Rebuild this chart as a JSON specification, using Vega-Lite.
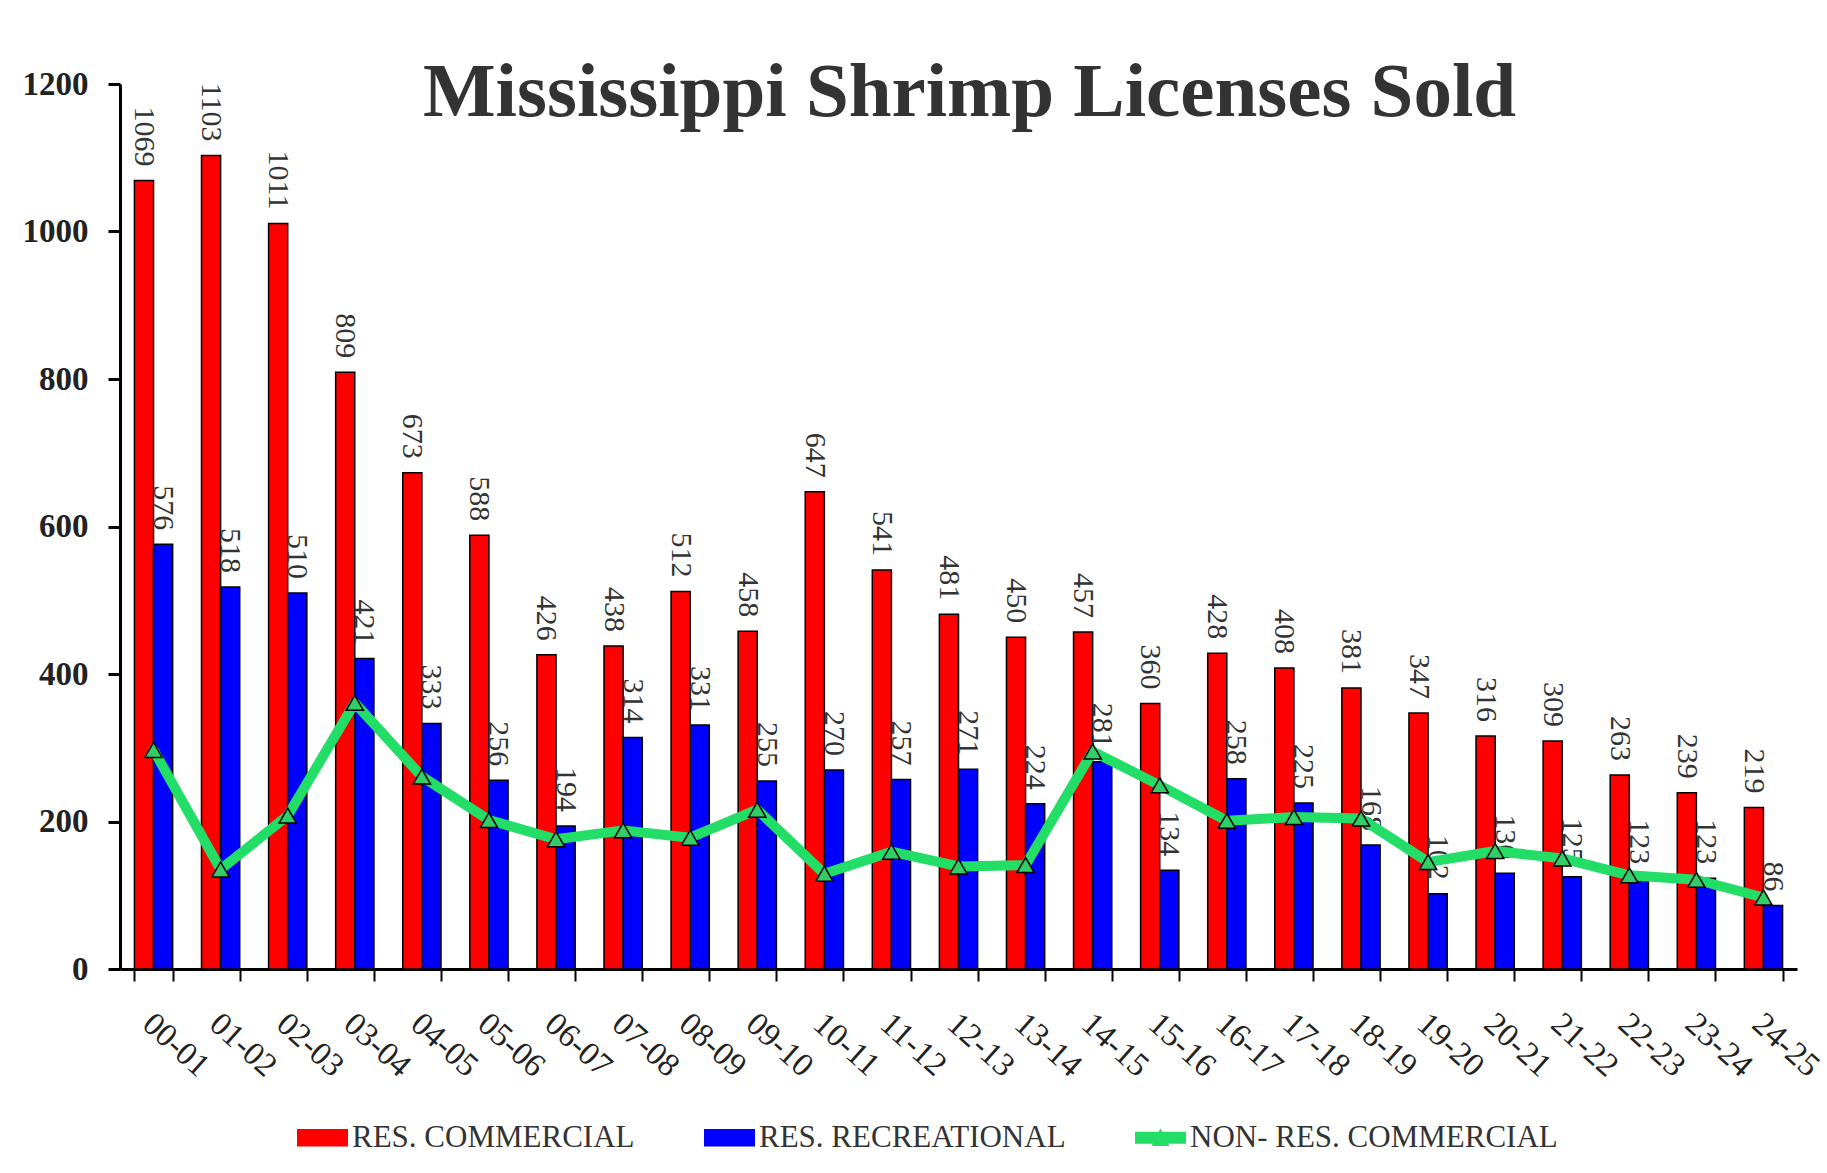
{
  "$schema": "https://vega.github.io/schema/vega-lite/v6.json",
  "width": 1677,
  "height": 885,
  "autosize": {"type": "none"},
  "padding": {"left": 120, "top": 84, "right": 30, "bottom": 204},
  "background": "white",
  "config": {"view": {"stroke": null}},
  "title": {
    "text": "Mississippi Shrimp Licenses Sold",
    "font": "Liberation Serif",
    "fontSize": 77,
    "fontWeight": "bold",
    "color": "#333333",
    "anchor": "middle",
    "frame": "group",
    "dx": 11,
    "offset": -64
  },
  "datasets": {
    "licenses": [
      {"season": "00-01", "series": "RES. COMMERCIAL", "value": 1069},
      {"season": "01-02", "series": "RES. COMMERCIAL", "value": 1103},
      {"season": "02-03", "series": "RES. COMMERCIAL", "value": 1011},
      {"season": "03-04", "series": "RES. COMMERCIAL", "value": 809},
      {"season": "04-05", "series": "RES. COMMERCIAL", "value": 673},
      {"season": "05-06", "series": "RES. COMMERCIAL", "value": 588},
      {"season": "06-07", "series": "RES. COMMERCIAL", "value": 426},
      {"season": "07-08", "series": "RES. COMMERCIAL", "value": 438},
      {"season": "08-09", "series": "RES. COMMERCIAL", "value": 512},
      {"season": "09-10", "series": "RES. COMMERCIAL", "value": 458},
      {"season": "10-11", "series": "RES. COMMERCIAL", "value": 647},
      {"season": "11-12", "series": "RES. COMMERCIAL", "value": 541},
      {"season": "12-13", "series": "RES. COMMERCIAL", "value": 481},
      {"season": "13-14", "series": "RES. COMMERCIAL", "value": 450},
      {"season": "14-15", "series": "RES. COMMERCIAL", "value": 457},
      {"season": "15-16", "series": "RES. COMMERCIAL", "value": 360},
      {"season": "16-17", "series": "RES. COMMERCIAL", "value": 428},
      {"season": "17-18", "series": "RES. COMMERCIAL", "value": 408},
      {"season": "18-19", "series": "RES. COMMERCIAL", "value": 381},
      {"season": "19-20", "series": "RES. COMMERCIAL", "value": 347},
      {"season": "20-21", "series": "RES. COMMERCIAL", "value": 316},
      {"season": "21-22", "series": "RES. COMMERCIAL", "value": 309},
      {"season": "22-23", "series": "RES. COMMERCIAL", "value": 263},
      {"season": "23-24", "series": "RES. COMMERCIAL", "value": 239},
      {"season": "24-25", "series": "RES. COMMERCIAL", "value": 219},
      {"season": "00-01", "series": "RES. RECREATIONAL", "value": 576},
      {"season": "01-02", "series": "RES. RECREATIONAL", "value": 518},
      {"season": "02-03", "series": "RES. RECREATIONAL", "value": 510},
      {"season": "03-04", "series": "RES. RECREATIONAL", "value": 421},
      {"season": "04-05", "series": "RES. RECREATIONAL", "value": 333},
      {"season": "05-06", "series": "RES. RECREATIONAL", "value": 256},
      {"season": "06-07", "series": "RES. RECREATIONAL", "value": 194},
      {"season": "07-08", "series": "RES. RECREATIONAL", "value": 314},
      {"season": "08-09", "series": "RES. RECREATIONAL", "value": 331},
      {"season": "09-10", "series": "RES. RECREATIONAL", "value": 255},
      {"season": "10-11", "series": "RES. RECREATIONAL", "value": 270},
      {"season": "11-12", "series": "RES. RECREATIONAL", "value": 257},
      {"season": "12-13", "series": "RES. RECREATIONAL", "value": 271},
      {"season": "13-14", "series": "RES. RECREATIONAL", "value": 224},
      {"season": "14-15", "series": "RES. RECREATIONAL", "value": 281},
      {"season": "15-16", "series": "RES. RECREATIONAL", "value": 134},
      {"season": "16-17", "series": "RES. RECREATIONAL", "value": 258},
      {"season": "17-18", "series": "RES. RECREATIONAL", "value": 225},
      {"season": "18-19", "series": "RES. RECREATIONAL", "value": 168},
      {"season": "19-20", "series": "RES. RECREATIONAL", "value": 102},
      {"season": "20-21", "series": "RES. RECREATIONAL", "value": 130},
      {"season": "21-22", "series": "RES. RECREATIONAL", "value": 125},
      {"season": "22-23", "series": "RES. RECREATIONAL", "value": 123},
      {"season": "23-24", "series": "RES. RECREATIONAL", "value": 123},
      {"season": "24-25", "series": "RES. RECREATIONAL", "value": 86},
      {"season": "00-01", "series": "NON- RES. COMMERCIAL", "value": 297},
      {"season": "01-02", "series": "NON- RES. COMMERCIAL", "value": 135},
      {"season": "02-03", "series": "NON- RES. COMMERCIAL", "value": 208},
      {"season": "03-04", "series": "NON- RES. COMMERCIAL", "value": 361},
      {"season": "04-05", "series": "NON- RES. COMMERCIAL", "value": 261},
      {"season": "05-06", "series": "NON- RES. COMMERCIAL", "value": 202},
      {"season": "06-07", "series": "NON- RES. COMMERCIAL", "value": 176},
      {"season": "07-08", "series": "NON- RES. COMMERCIAL", "value": 188},
      {"season": "08-09", "series": "NON- RES. COMMERCIAL", "value": 178},
      {"season": "09-10", "series": "NON- RES. COMMERCIAL", "value": 216},
      {"season": "10-11", "series": "NON- RES. COMMERCIAL", "value": 129},
      {"season": "11-12", "series": "NON- RES. COMMERCIAL", "value": 159},
      {"season": "12-13", "series": "NON- RES. COMMERCIAL", "value": 139},
      {"season": "13-14", "series": "NON- RES. COMMERCIAL", "value": 141},
      {"season": "14-15", "series": "NON- RES. COMMERCIAL", "value": 295},
      {"season": "15-16", "series": "NON- RES. COMMERCIAL", "value": 249},
      {"season": "16-17", "series": "NON- RES. COMMERCIAL", "value": 201},
      {"season": "17-18", "series": "NON- RES. COMMERCIAL", "value": 206},
      {"season": "18-19", "series": "NON- RES. COMMERCIAL", "value": 204},
      {"season": "19-20", "series": "NON- RES. COMMERCIAL", "value": 145},
      {"season": "20-21", "series": "NON- RES. COMMERCIAL", "value": 160},
      {"season": "21-22", "series": "NON- RES. COMMERCIAL", "value": 150},
      {"season": "22-23", "series": "NON- RES. COMMERCIAL", "value": 127},
      {"season": "23-24", "series": "NON- RES. COMMERCIAL", "value": 121},
      {"season": "24-25", "series": "NON- RES. COMMERCIAL", "value": 97}
    ]
  },
  "data": {"name": "licenses"},
  "encoding": {
    "x": {
      "field": "season",
      "type": "nominal",
      "sort": null,
      "title": null,
      "scale": {"paddingInner": 0.43, "paddingOuter": 0.215},
      "axis": {
        "labelAngle": 42,
        "labelAlign": "left",
        "labelBaseline": "top",
        "labelFont": "Liberation Serif",
        "labelFontSize": 33,
        "labelColor": "#222222",
        "labelPadding": 26,
        "labelOffset": 4,
        "domainColor": "black",
        "domainWidth": 3,
        "tickColor": "black",
        "tickWidth": 2,
        "tickSize": 12,
        "tickBand": "extent",
        "grid": false
      }
    },
    "y": {
      "field": "value",
      "type": "quantitative",
      "title": null,
      "scale": {"domain": [0, 1200], "nice": false},
      "axis": {
        "values": [0, 200, 400, 600, 800, 1000, 1200],
        "format": "d",
        "labelFont": "Liberation Serif",
        "labelFontSize": 33,
        "labelFontWeight": "bold",
        "labelColor": "#222222",
        "labelPadding": 20,
        "domainColor": "black",
        "domainWidth": 3,
        "tickColor": "black",
        "tickWidth": 3,
        "tickSize": 12,
        "grid": false
      }
    }
  },
  "layer": [
    {
      "transform": [{"filter": "datum.series !== 'NON- RES. COMMERCIAL'"}],
      "mark": {"type": "bar", "stroke": "black", "strokeWidth": 1.5},
      "encoding": {
        "xOffset": {"field": "series", "type": "nominal", "sort": ["RES. COMMERCIAL", "RES. RECREATIONAL"], "scale": {"paddingInner": 0, "paddingOuter": 0}},
        "color": {
          "field": "series",
          "type": "nominal",
          "scale": {
            "domain": ["RES. COMMERCIAL", "RES. RECREATIONAL", "NON- RES. COMMERCIAL"],
            "range": ["#ff0000", "#0000ff", "#22dd66"]
          },
          "legend": {
            "title": null,
            "orient": "none",
            "direction": "horizontal",
            "legendX": 177,
            "legendY": 1028,
            "labelFont": "Liberation Serif",
            "labelFontSize": 31,
            "labelColor": "#333333",
            "labelLimit": 0,
            "labelOffset": 4,
            "columnPadding": 66,
            "symbolSize": 2400,
            "symbolStrokeColor": "black",
            "symbolStrokeWidth": 2,
            "symbolOpacity": 1,
            "encode": {
              "symbols": {
                "update": {
                  "shape": {"signal": "datum.value === 'NON- RES. COMMERCIAL' ? 'M-1,-0.2H-0.05L0,-0.3L0.05,-0.2H1V0.2H0.25L0.3,0.3H-0.3L-0.25,0.2H-1Z' : 'M-1,-0.32H1V0.32H-1Z'"},
                  "fill": {"scale": "color", "field": "value"},
                  "stroke": {"value": "black"},
                  "strokeWidth": {"value": 2},
                  "opacity": {"value": 1}
                }
              }
            }
          }
        }
      }
    },
    {
      "transform": [{"filter": "datum.series !== 'NON- RES. COMMERCIAL'"}],
      "mark": {
        "type": "text",
        "angle": 90,
        "align": "right",
        "baseline": "middle",
        "dx": -14,
        "font": "Liberation Serif",
        "fontSize": 30,
        "color": "#333333"
      },
      "encoding": {
        "xOffset": {"field": "series", "type": "nominal", "sort": ["RES. COMMERCIAL", "RES. RECREATIONAL"], "scale": {"paddingInner": 0, "paddingOuter": 0}},
        "text": {"field": "value", "type": "quantitative"}
      }
    },
    {
      "transform": [{"filter": "datum.series === 'NON- RES. COMMERCIAL'"}],
      "mark": {"type": "line", "strokeWidth": 10, "strokeJoin": "round", "strokeCap": "round"},
      "encoding": {
        "color": {"field": "series", "type": "nominal"}
      }
    },
    {
      "transform": [{"filter": "datum.series === 'NON- RES. COMMERCIAL'"}],
      "mark": {"type": "point", "shape": "triangle-up", "filled": true, "fill": "#33cc66", "stroke": "black", "strokeWidth": 1.5, "size": 300, "opacity": 1}
    }
  ]
}
